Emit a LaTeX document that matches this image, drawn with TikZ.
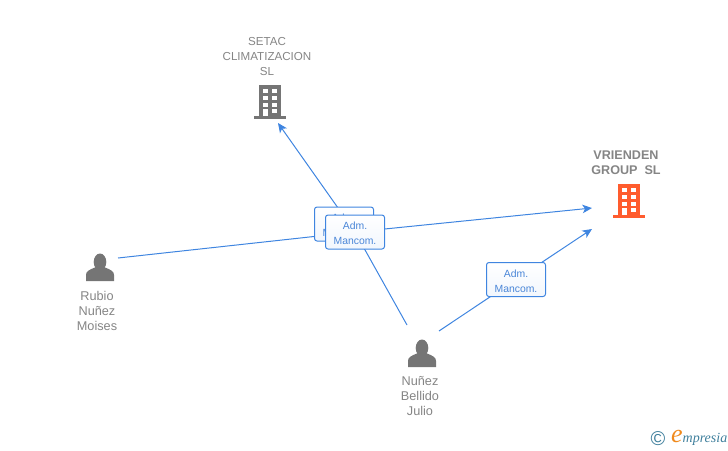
\documentclass[tikz,border=0pt]{standalone}
\usepackage{fontspec}
\setmainfont{Liberation Sans}
\newfontfamily\logofont{Liberation Serif}
\usepackage{tikz}
\usetikzlibrary{arrows.meta,backgrounds}

\definecolor{azul}{HTML}{3F85E0}
\definecolor{textoazul}{HTML}{4A86D8}
\definecolor{gris}{HTML}{757575}
\definecolor{textogris}{HTML}{858585}
\definecolor{naranja}{HTML}{FF5C2E}
\definecolor{logoazul}{HTML}{3F7F9C}
\definecolor{logonaranja}{HTML}{F08A1D}

\tikzset{
  enlace/.style={draw=azul, line width=1pt},
  flecha/.style={-{Stealth[length=9.5pt,width=8.5pt,inset=2.5pt]}},
  cargo/.style={draw=azul, line width=1pt, rounded corners=2.5pt, top color=white, bottom color=azul!7,
    minimum width=59pt, minimum height=34pt, inner sep=0pt, align=center, text=textoazul,
    text height=25.5pt, font=\fontsize{10.4}{15}\selectfont},
  nombre/.style={text=textogris, align=center, inner sep=0pt, font=\fontsize{12.7}{15}\selectfont},
  empresa/.style={text=textogris, align=center, inner sep=0pt, font=\fontsize{11.6}{15}\selectfont},
  pics/persona/.style={code={
    \fill[gris] (0,-19) ellipse (6.3 and 8.5);
    \fill[gris] (-14,0) -- (-14,-6) .. controls (-14,-10) and (-11,-11) .. (-4,-14)
      -- (4,-14) .. controls (11,-11) and (14,-10) .. (14,-6) -- (14,0) -- cycle;
  }},
  pics/edificio/.style={code={
    \fill[#1] (-11,0) rectangle (11,31);
    \fill[#1] (-16,31) rectangle (16,34);
    \foreach \y in {4,11,18}{
      \fill[white] (-7,\y) rectangle (-2,\y+4);
      \fill[white] (2,\y) rectangle (7.5,\y+4);
    }
    \fill[white] (-7,24) rectangle (-2,31);
    \fill[white] (2,24) rectangle (7.5,28);
  }},
}

\begin{document}
\begin{tikzpicture}[x=1pt,y=-1pt]
\useasboundingbox (0,0) rectangle (728,450);

\pic at (269.5,85) {edificio=gris};
\pic at (628.5,184) {edificio=naranja};
\pic at (100,281) {persona};
\pic at (422,367) {persona};

\node[empresa] (setac) at (267,56.5) {SETAC\\CLIMATIZACION\\SL};
\node[empresa, font=\fontsize{12.6}{15}\selectfont\bfseries] (vrienden) at (626,162.5) {VRIENDEN\\GROUP\ \ SL};
\node[nombre] (rubio) at (97,311) {Rubio\\Nuñez\\Moises};
\node[nombre] (nunez) at (420,396) {Nuñez\\Bellido\\Julio};

\coordinate (setacfin) at (278,123);
\coordinate (vriendenfin) at (592,208);
\coordinate (vriendenfinb) at (592,229);
\coordinate (rubioini) at (118,258);
\coordinate (nunezini) at (407,325);
\coordinate (nunezinib) at (439,331);

\node[cargo] (cargoa) at (344,224) {Adm.\\Mancom.};
\node[cargo] (cargob) at (355,232) {Adm.\\Mancom.};
\node[cargo] (cargoc) at (516,279.5) {Adm.\\Mancom.};

\begin{scope}[on background layer]
\draw[enlace, flecha] (nunezini) -- (cargob.center) -- (setacfin);
\draw[enlace, flecha] (rubioini) -- (cargob.center) -- (vriendenfin);
\draw[enlace, flecha] (nunezinib) -- (cargoc.center) -- (vriendenfinb);
\end{scope}

\node[text=logoazul, inner sep=0pt, font=\fontsize{20}{20}\selectfont] (copyr) at (658,438.5) {©};
\node[text=logonaranja, inner sep=0pt, font=\logofont\itshape\fontsize{26}{26}\selectfont] (logoe) at (677,436) {e};
\node[text=logoazul, inner sep=0pt, font=\logofont\itshape\fontsize{14}{14}\selectfont] (logotxt) at (705,439) {mpresia};
\end{tikzpicture}
\end{document}
